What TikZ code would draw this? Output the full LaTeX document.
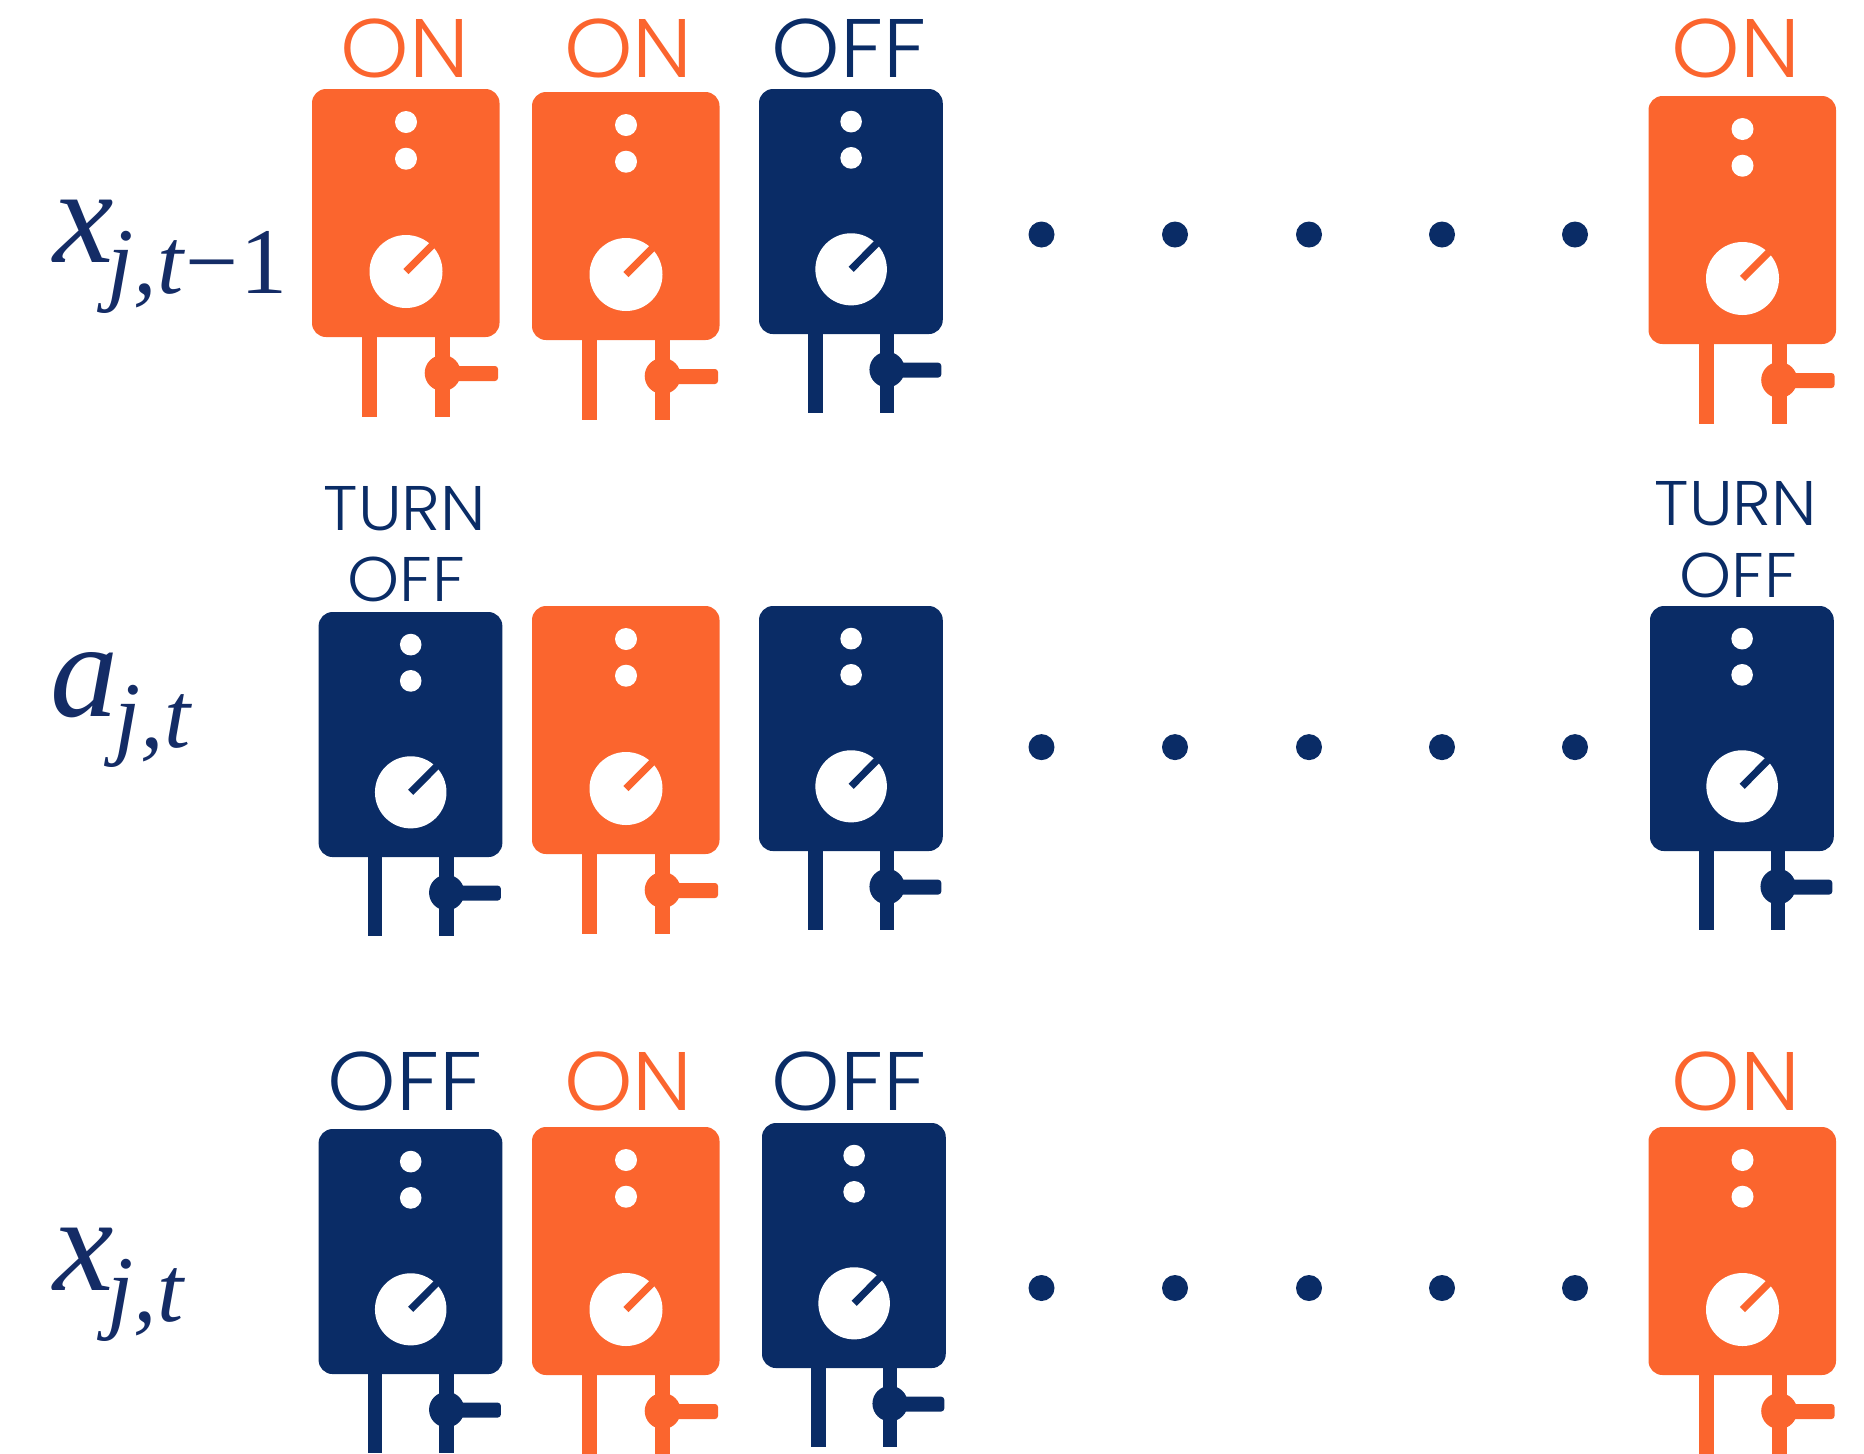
\documentclass[tikz,border=0pt]{standalone}
\usepackage{fontspec}
\setmainfont{Liberation Serif}
\newfontfamily\labfont[UprightFont={* Light},FakeStretch=1.05]{Poppins}
\definecolor{hotc}{HTML}{FB652E}
\definecolor{navyc}{HTML}{0A2C66}
\definecolor{mathc}{HTML}{142C66}
\newcommand{\heater}[5]{%
 \begin{scope}[shift={(#1,#2)},xscale=#3,yscale=#4]
  \fill[#5,rounded corners=7pt] (0,0) rectangle (187.5,248);
  \fill[#5] (50,240) rectangle (65,328);
  \fill[#5] (123,240) rectangle (138,328);
  \fill[#5] (130.7,284) circle (18);
  \fill[#5,rounded corners=1.5pt] (130,277) rectangle (186,292);
  \fill[white] (94,33) circle (11);
  \fill[white] (94,69.7) circle (11);
  \fill[white] (94,182.5) circle (36.5);
  \draw[#5,line width=3.6pt] (94,182.5) -- (122,154.5);
 \end{scope}}
\tikzset{
 big/.style={font=\labfont\fontsize{41.5}{41.5}\selectfont,anchor=base,inner sep=0pt},
 small/.style={font=\labfont\fontsize{31.5}{31.5}\selectfont,anchor=base,inner sep=0pt},
 mathlab/.style={anchor=base west,inner sep=0pt,text=mathc},
 gapdot/.style={navyc}
}
\newcommand{\mainsym}[1]{{\fontsize{68}{68}\selectfont\itshape #1}}
\newcommand{\subsym}[1]{\raisebox{-15.5pt}{\fontsize{47}{47}\selectfont #1}}
\newcommand{\dotrow}[1]{%
 \foreach \px in {1041.5,1175,1309,1442,1575} {\fill[gapdot] (\px,#1+0.5) circle (13);}}
\begin{document}
\begin{tikzpicture}[x=0.5pt,y=-0.5pt]
\useasboundingbox (0,0) rectangle (1864,1453);
\clip (0,0) rectangle (1864,1453);
% row 1
\heater{312}{89}{1}{1}{hotc}
\heater{532}{92}{1}{1}{hotc}
\heater{759}{89}{.98}{.988}{navyc}
\heater{1648.5}{96}{1}{1}{hotc}
\node[big,text=hotc] (a1) at (405,77) {ON};
\node[big,text=hotc] (a2) at (628.5,77) {ON};
\node[big,text=navyc] (a3) at (849,77) {OFF};
\node[big,text=hotc] (a4) at (1736,77) {ON};
\dotrow{234}
% row 2
\heater{318.6}{612}{.98}{.988}{navyc}
\heater{532}{606}{1}{1}{hotc}
\heater{759}{606}{.98}{.988}{navyc}
\heater{1650}{606}{.98}{.988}{navyc}
\node[small,text=navyc] (b1) at (405,530) {TURN};
\node[small,text=navyc] (b2) at (406,601.7) {OFF};
\node[small,text=navyc] (b3) at (1736,525) {TURN};
\node[small,text=navyc] (b4) at (1738,597) {OFF};
\dotrow{746.6}
% row 3
\heater{318.6}{1129}{.98}{.988}{navyc}
\heater{532}{1127}{1}{1}{hotc}
\heater{762}{1123}{.98}{.988}{navyc}
\heater{1648.5}{1127}{1}{1}{hotc}
\node[big,text=navyc] (c1) at (405,1110) {OFF};
\node[big,text=hotc] (c2) at (628.5,1110) {ON};
\node[big,text=navyc] (c3) at (849,1110) {OFF};
\node[big,text=hotc] (c4) at (1736,1110) {ON};
\dotrow{1287.5}
% symbols
\node[mathlab] (m1) at (53,262) {\mainsym{x}\kern-3pt\subsym{\itshape j,t\kern1pt\upshape −\kern1pt 1}};
\node[mathlab] (m2) at (50,716) {\mainsym{a}\kern-2pt\subsym{\itshape j,t}};
\node[mathlab] (m3) at (53,1290) {\mainsym{x}\kern-3pt\subsym{\itshape j,t}};
\end{tikzpicture}
\end{document}
